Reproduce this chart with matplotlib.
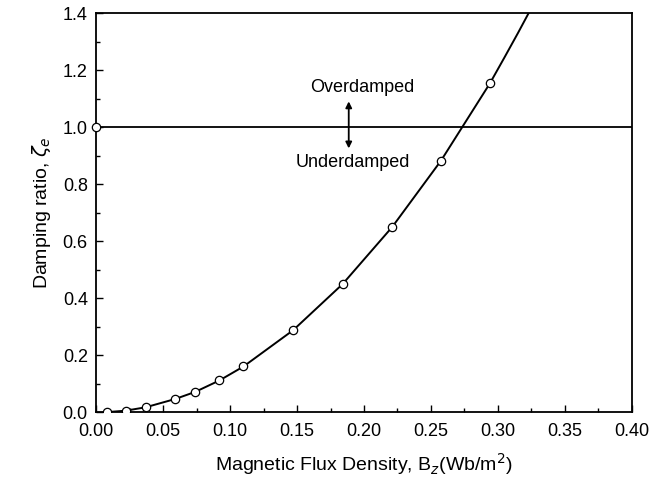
"""Damping ratio vs magnetic flux density"""

import numpy as np
import matplotlib.pyplot as plt
from matplotlib.ticker import MultipleLocator

plt.rcParams['font.family'] = ['Liberation Sans', 'DejaVu Sans']

# measured points
b_z = [0.008, 0.022, 0.037, 0.059, 0.074, 0.092, 0.110, 0.147, 0.184, 0.221, 0.2575, 0.294]
zeta = [0.0, 0.005, 0.017, 0.046, 0.071, 0.111, 0.160, 0.287, 0.449, 0.649, 0.882, 1.153]

# line through the points, continued to the top of the frame
line_b = b_z + [0.305, 0.315, 0.323]
line_zeta = zeta + [1.245, 1.33, 1.40]

crit_b = [0.0, 0.40]
crit_zeta = [1.0, 1.0]

fig = plt.figure(figsize=(6.5, 4.82), dpi=100)
ax = fig.add_axes([0.148, 0.145, 0.824, 0.828])

ax.plot(line_b, line_zeta, color='black', lw=1.4, zorder=2)
ax.plot(b_z, zeta, 'o', ms=6, mfc='white', mec='black', mew=0.9, zorder=3)
ax.plot(crit_b, crit_zeta, color='black', lw=1.3, zorder=2)
ax.plot([0.0], [1.0], 'o', ms=6, mfc='white', mec='black', mew=0.9,
        zorder=3, clip_on=False)

ax.text(0.199, 1.137, 'Overdamped', ha='center', va='center', fontsize=13)
ax.text(0.192, 0.877, 'Underdamped', ha='center', va='center', fontsize=13)
ax.annotate('', xy=(0.1886, 1.09), xytext=(0.1886, 0.925),
            arrowprops=dict(arrowstyle='<|-|>', color='black', lw=1.3,
                            mutation_scale=9, shrinkA=0, shrinkB=0))

ax.set_xlim(0, 0.40)
ax.set_ylim(0, 1.4)
ax.xaxis.set_major_locator(MultipleLocator(0.05))
ax.xaxis.set_minor_locator(MultipleLocator(0.025))
ax.yaxis.set_major_locator(MultipleLocator(0.2))
ax.yaxis.set_minor_locator(MultipleLocator(0.1))
ax.xaxis.set_major_formatter(plt.FormatStrFormatter('%.2f'))
ax.yaxis.set_major_formatter(plt.FormatStrFormatter('%.1f'))
ax.tick_params(which='both', direction='in', top=False, right=False,
               labelsize=13, width=1.0)
ax.tick_params(which='major', length=5, pad=6)
ax.tick_params(axis='x', which='major', pad=8)
ax.tick_params(which='minor', length=3)
for s in ax.spines.values():
    s.set_linewidth(1.3)

ax.set_xlabel('Magnetic Flux Density, B$_z$(Wb/m$^2$)', fontsize=14, labelpad=8)
ax.set_ylabel(r'Damping ratio, $\zeta_e$', fontsize=14, labelpad=7)

fig.savefig('out.png', dpi=100)
